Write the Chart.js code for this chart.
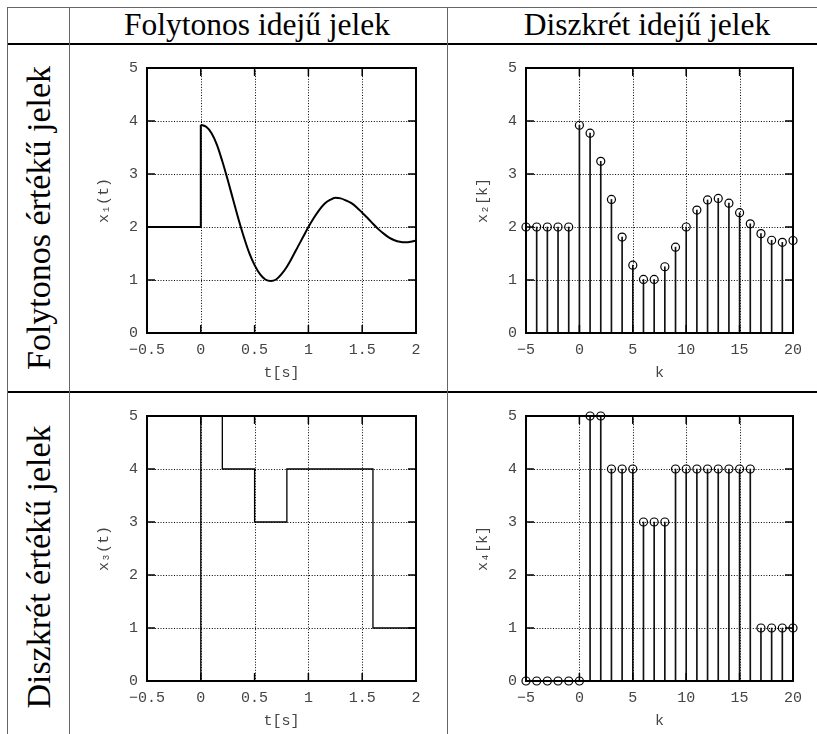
<!DOCTYPE html>
<html>
<head>
<meta charset="utf-8">
<script src="https://cdn.jsdelivr.net/npm/chart.js@4.4.1/dist/chart.umd.min.js"></script>
<style>
  body { margin: 0; background: #fff; width: 817px; height: 734px; position: relative; overflow: hidden; }
  .line { position: absolute; }
  .head { position: absolute; font-family: "Liberation Serif", serif; font-size: 31.5px; line-height: 31px; white-space: nowrap; color: #000; transform: translateX(-50%); }
  .side { position: absolute; font-family: "Liberation Serif", serif; font-size: 34px; line-height: 34px; white-space: nowrap; color: #000; transform: translate(-50%, -50%) rotate(-90deg); }
  .box { position: absolute; }
</style>
</head>
<body>
<!-- table rules -->
<div class="line" style="left:7px;top:7px;width:810px;height:1px;background:#666"></div>
<div class="line" style="left:7px;top:43px;width:810px;height:2px;background:#000"></div>
<div class="line" style="left:7px;top:391px;width:810px;height:2px;background:#000"></div>
<div class="line" style="left:7px;top:7px;width:1px;height:727px;background:#666"></div>
<div class="line" style="left:69px;top:7px;width:1px;height:727px;background:#666"></div>
<div class="line" style="left:447px;top:7px;width:1px;height:727px;background:#666"></div>

<div class="head" style="left:257px;top:9px">Folytonos idejű jelek</div>
<div class="head" style="left:647px;top:9px">Diszkrét idejű jelek</div>
<div class="side" style="left:39px;top:218px">Folytonos értékű jelek</div>
<div class="side" style="left:39px;top:567px">Diszkrét értékű jelek</div>

<div class="box" id="b1"><canvas id="c1"></canvas></div>
<div class="box" id="b2"><canvas id="c2"></canvas></div>
<div class="box" id="b3"><canvas id="c3"></canvas></div>
<div class="box" id="b4"><canvas id="c4"></canvas></div>

<script>
// x1(t): constant part before the jump, then the decaying oscillation
const x1PreT = [-0.5, 0, 0];
const x1PreV = [2, 2, 3.93];
const x1T = [0, 0.05, 0.1, 0.15, 0.2, 0.25, 0.3, 0.35, 0.4, 0.45, 0.5, 0.55, 0.6, 0.65, 0.7,
             0.75, 0.8, 0.85, 0.9, 0.95, 1.0, 1.05, 1.1, 1.15, 1.2, 1.25, 1.3, 1.35, 1.4, 1.45,
             1.5, 1.55, 1.6, 1.65, 1.7, 1.75, 1.8, 1.85, 1.9, 1.95, 2.0];
const x1V = [3.93, 3.89, 3.77, 3.55, 3.24, 2.89, 2.52, 2.15, 1.81, 1.51, 1.28, 1.11, 1.01, 0.98, 1.01,
             1.11, 1.25, 1.43, 1.62, 1.81, 2.00, 2.17, 2.32, 2.44, 2.51, 2.55, 2.54, 2.50, 2.45, 2.37,
             2.27, 2.17, 2.06, 1.96, 1.875, 1.80, 1.75, 1.72, 1.71, 1.72, 1.745];

// discrete index k
const kIdx = [-5, -4, -3, -2, -1, 0, 1, 2, 3, 4, 5, 6, 7, 8, 9, 10, 11, 12, 13, 14, 15, 16, 17, 18, 19, 20];
const x2V = [2, 2, 2, 2, 2, 3.92, 3.77, 3.24, 2.52, 1.81, 1.28, 1.01, 1.01, 1.25, 1.62, 2.0,
             2.32, 2.51, 2.54, 2.45, 2.27, 2.06, 1.875, 1.75, 1.71, 1.745];

// x3(t): step signal, value holds from each time until the next
const x3T = [-0.5, 0, 0.2, 0.5, 0.8, 1.6, 2.0];
const x3V = [0, 5, 4, 3, 4, 1, 1];

const x4V = [0, 0, 0, 0, 0, 0, 5, 5, 4, 4, 4, 3, 3, 3, 4, 4, 4, 4, 4, 4, 4, 4, 1, 1, 1, 1];

// tick values
const tTicks = [-0.5, 0, 0.5, 1, 1.5, 2];
const kTicks = [-5, 0, 5, 10, 15, 20];
const yTicks = [0, 1, 2, 3, 4, 5];

const pts = (xs, ys) => xs.map((x, i) => ({ x: x, y: ys[i] }));

// plot areas: left, top, width, height
const areas = {
  b1: [147, 64, 269, 269],
  b2: [526, 64, 270, 269],
  b3: [147, 412, 269, 269],
  b4: [526, 412, 270, 269]
};
const AXW = 57, PAD = 14;
Object.keys(areas).forEach(id => {
  const [l, t, w, h] = areas[id];
  const el = document.getElementById(id);
  el.style.left = (l - AXW) + 'px';
  el.style.top = (t - PAD) + 'px';
  el.style.width = (AXW + w + PAD) + 'px';
  el.style.height = (PAD + h + AXW) + 'px';
});

const monoFont = { family: '"Liberation Mono", "DejaVu Sans Mono", monospace', size: 15 };

const framePlugin = {
  id: 'frame',
  beforeDatasetsDraw(chart) {
    const { ctx, chartArea: a, scales: { x, y } } = chart;
    ctx.save();
    ctx.strokeStyle = '#000';
    ctx.lineWidth = 1;
    ctx.setLineDash([1, 1.7]);
    ctx.beginPath();
    x.ticks.forEach(t => {
      const p = Math.round(x.getPixelForValue(t.value)) + 0.5;
      ctx.moveTo(p, a.top); ctx.lineTo(p, a.bottom);
    });
    y.ticks.forEach(t => {
      const p = Math.round(y.getPixelForValue(t.value)) + 0.5;
      ctx.moveTo(a.left, p); ctx.lineTo(a.right, p);
    });
    ctx.stroke();
    ctx.restore();
  },
  afterDatasetsDraw(chart) {
    const { ctx, chartArea: a, scales: { x, y } } = chart;
    const len = 8;
    ctx.save();
    ctx.strokeStyle = '#000';
    ctx.lineWidth = 1.5;
    ctx.beginPath();
    x.ticks.forEach(t => {
      const p = x.getPixelForValue(t.value);
      ctx.moveTo(p, a.bottom); ctx.lineTo(p, a.bottom - len);
      ctx.moveTo(p, a.top); ctx.lineTo(p, a.top + len);
    });
    y.ticks.forEach(t => {
      const p = y.getPixelForValue(t.value);
      ctx.moveTo(a.left, p); ctx.lineTo(a.left + len, p);
      ctx.moveTo(a.right, p); ctx.lineTo(a.right - len, p);
    });
    ctx.stroke();
    ctx.lineWidth = 2;
    ctx.strokeRect(a.left, a.top, a.right - a.left, a.bottom - a.top);
    ctx.restore();
  }
};

function axis(min, max, ticks, title, horizontal) {
  return {
    type: 'linear',
    min: min,
    max: max,
    offset: false,
    grid: { display: false, offset: false, drawTicks: false },
    border: { display: false },
    afterBuildTicks: s => { s.ticks = ticks.map(v => ({ value: v })); },
    afterFit: s => { if (horizontal) s.height = AXW; else s.width = AXW; },
    ticks: {
      autoSkip: false, maxRotation: 0, padding: horizontal ? 8 : 9,
      color: '#444', font: monoFont,
      callback: v => String(v).replace('-', '\u2212')
    },
    title: {
      display: true, text: title, color: '#444', font: monoFont,
      padding: horizontal ? { top: 0, bottom: 8 } : { top: 5, bottom: 0 }
    }
  };
}

function baseOptions(xMin, xMax, xTicks, xTitle, yTitle) {
  return {
    responsive: true,
    maintainAspectRatio: false,
    animation: false,
    events: [],
    layout: { padding: { top: PAD, right: PAD, left: 0, bottom: 0 } },
    plugins: { legend: { display: false }, tooltip: { enabled: false } },
    scales: {
      x: axis(xMin, xMax, xTicks, xTitle, true),
      y: axis(0, 5, yTicks, yTitle, false)
    }
  };
}

// continuous time, continuous value
new Chart(document.getElementById('c1'), {
  type: 'line',
  data: {
    datasets: [
      { data: pts(x1PreT, x1PreV), borderColor: '#000', borderWidth: 2, pointRadius: 0, tension: 0 },
      { data: pts(x1T, x1V), borderColor: '#000', borderWidth: 2, pointRadius: 0, cubicInterpolationMode: 'monotone' }
    ]
  },
  options: baseOptions(-0.5, 2, tTicks, 't[s]', 'x\u2081(t)'),
  plugins: [framePlugin]
});

// stem plot helper
function stemDatasets(values) {
  const data = pts(kIdx, values);
  return [
    { type: 'line', data: data, showLine: false, pointRadius: 4, pointBorderWidth: 1.2,
      pointBorderColor: '#000', pointBackgroundColor: 'rgba(0,0,0,0)', clip: false },
    { type: 'bar', data: data, backgroundColor: '#111', barThickness: 1, borderWidth: 0 }
  ];
}

new Chart(document.getElementById('c2'), {
  type: 'bar',
  data: { datasets: stemDatasets(x2V) },
  options: baseOptions(-5, 20, kTicks, 'k', 'x\u2082[k]'),
  plugins: [framePlugin]
});

// continuous time, discrete value
new Chart(document.getElementById('c3'), {
  type: 'line',
  data: {
    datasets: [
      { data: pts(x3T, x3V), borderColor: '#000', borderWidth: 1.3, pointRadius: 0, stepped: 'before' }
    ]
  },
  options: baseOptions(-0.5, 2, tTicks, 't[s]', 'x\u2083(t)'),
  plugins: [framePlugin]
});

new Chart(document.getElementById('c4'), {
  type: 'bar',
  data: { datasets: stemDatasets(x4V) },
  options: baseOptions(-5, 20, kTicks, 'k', 'x\u2084[k]'),
  plugins: [framePlugin]
});
</script>
</body>
</html>
